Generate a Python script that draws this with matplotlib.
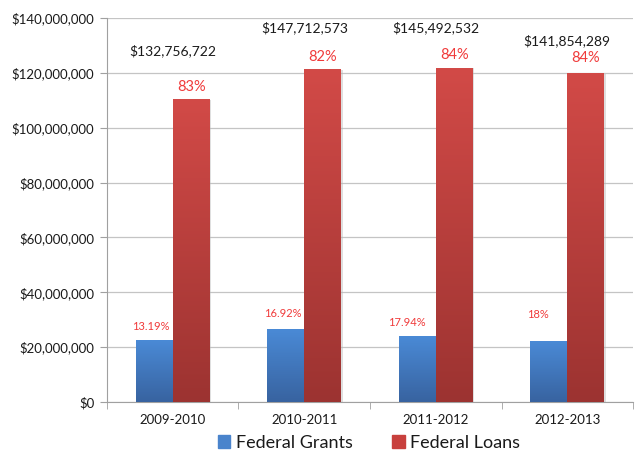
import numpy as np
import matplotlib
matplotlib.use("Agg")
import matplotlib.pyplot as plt
from matplotlib.colors import LinearSegmentedColormap
from matplotlib.patches import Patch
from matplotlib.ticker import FuncFormatter, MultipleLocator

plt.rcParams['font.family'] = ['Lato', 'DejaVu Sans']

years = ["2009-2010", "2010-2011", "2011-2012", "2012-2013"]
grants = [22.5e6, 26.5e6, 23.7e6, 22.0e6]
loans = [110.2e6, 121.1e6, 121.6e6, 119.6e6]
totals = ["$132,756,722", "$147,712,573", "$145,492,532", "$141,854,289"]
total_label_y = [128.2e6, 136.4e6, 136.4e6, 131.7e6]
grant_pct = ["13.19%", "16.92%", "17.94%", "18%"]
loan_pct = ["83%", "82%", "84%", "84%"]
# label offsets (data x units, pixels above bar)
grant_pct_dx = [-0.03, -0.02, -0.076, -0.084]
grant_pct_dy = [14, 16, 14, 27]
loan_pct_dy = [13, 13, 13, 16]

blue_cmap = LinearSegmentedColormap.from_list("b", ["#3863a0", "#4a8ad6"])
red_cmap = LinearSegmentedColormap.from_list("r", ["#9c3331", "#d24a47"])

fig = plt.figure(figsize=(6.36, 4.53), dpi=100)
ax = fig.add_axes([0.1682, 0.1126, 0.8271, 0.8477])

x = np.arange(len(years))
w = 0.28
grad = np.linspace(0, 1, 256).reshape(-1, 1)
px = 72 / fig.dpi  # points per pixel


def grad_bars(xs, vals, cmap):
    for xi, v in zip(xs, vals):
        # light shadow on the right side
        ax.bar(xi + 0.012, v, w, bottom=0, color="#b8b8b8", alpha=0.45, zorder=2, linewidth=0)
        ax.imshow(grad, cmap=cmap, origin="lower", aspect="auto",
                  extent=(xi - w / 2, xi + w / 2, 0, v), zorder=3)


grad_bars(x - w / 2, grants, blue_cmap)
grad_bars(x + w / 2, loans, red_cmap)

ax.set_xlim(-0.5, 3.5)
ax.set_ylim(0, 140e6)

ax.yaxis.set_major_locator(MultipleLocator(20e6))
ax.yaxis.set_major_formatter(FuncFormatter(lambda v, p: "${:,.0f}".format(v)))
ax.grid(axis="y", color="#c4c4c4", linewidth=0.9, zorder=0)
ax.set_axisbelow(True)

ax.set_xticks(x)
ax.set_xticklabels(years)
ax.set_xticks(np.arange(-0.5, 4, 1), minor=True)
ax.tick_params(axis="x", which="major", length=0, pad=9, labelsize=9.5, labelcolor="#1a1a1a")
ax.tick_params(axis="x", which="minor", length=5, color="#a0a0a0")
ax.tick_params(axis="y", length=5, color="#a0a0a0", labelsize=9.5, labelcolor="#1a1a1a", pad=4)

for s in ["top", "right"]:
    ax.spines[s].set_visible(False)
for s in ["left", "bottom"]:
    ax.spines[s].set_color("#a0a0a0")

for i in range(len(years)):
    ax.text(x[i], total_label_y[i], totals[i], ha="center", va="center",
            fontsize=10, color="#1a1a1a")
    ax.annotate(loan_pct[i], (x[i] + w / 2, loans[i]), xytext=(0, loan_pct_dy[i] * px),
                textcoords="offset points", ha="center", va="center",
                fontsize=10.5, color="#f03a3a")
    ax.annotate(grant_pct[i], (x[i] - w / 2 + grant_pct_dx[i], grants[i]),
                xytext=(0, grant_pct_dy[i] * px), textcoords="offset points",
                ha="center", va="center", fontsize=8, color="#f03a3a")

handles = [Patch(color="#4a84cc", label="Federal Grants"),
           Patch(color="#c8403d", label="Federal Loans")]
fig.legend(handles=handles, loc="center", bbox_to_anchor=(0.58, 0.022), ncol=2,
           frameon=False, fontsize=13, handlelength=0.7, handleheight=0.7,
           handletextpad=0.3, columnspacing=2.2, labelcolor="#1a1a1a")

fig.savefig("out.png", dpi=100)
